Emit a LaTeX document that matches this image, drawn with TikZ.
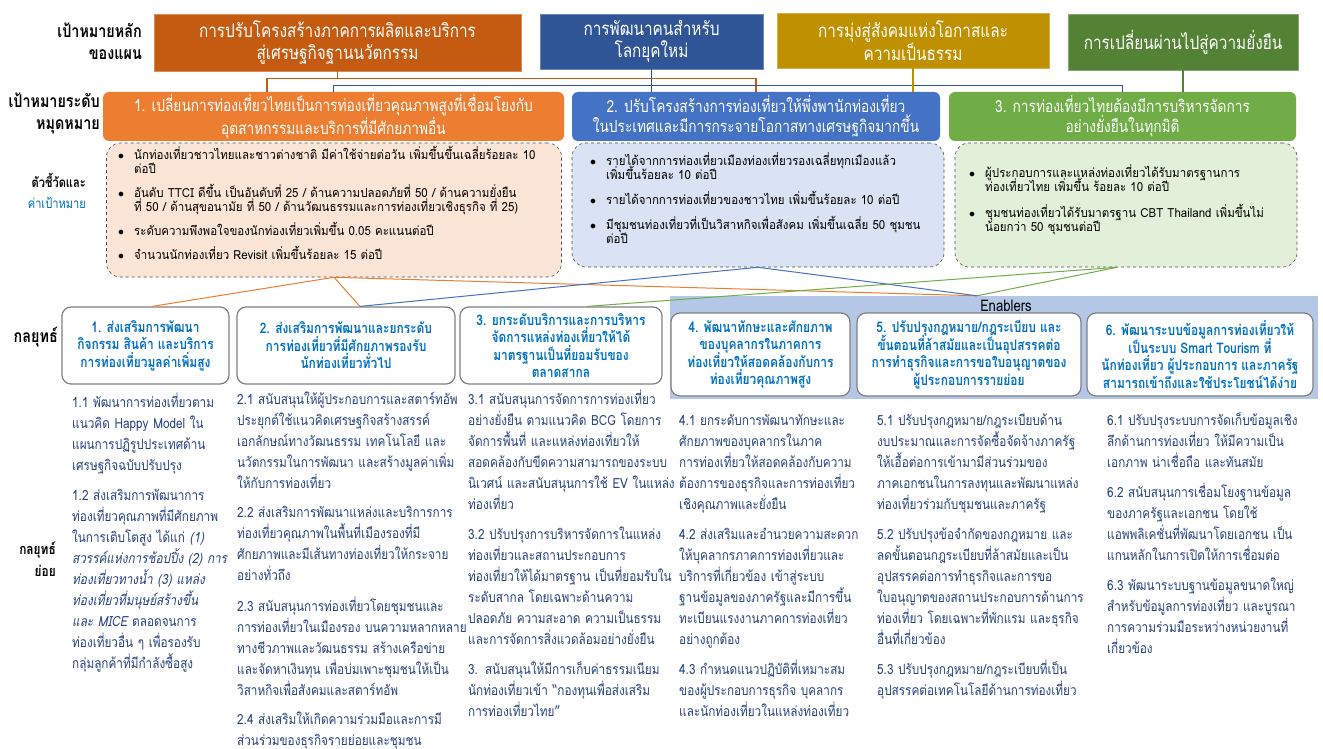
\documentclass[tikz,border=0pt]{standalone}
\usepackage{fontspec}
\usetikzlibrary{positioning,calc}
\setmainfont[Script=Thai]{Loma}
\newfontfamily\headfont[Script=Thai, FakeStretch=0.82]{Loma}
\newfontfamily\bodyfont[Script=Thai, FakeStretch=0.84, ItalicFont=*, ItalicFeatures={FakeSlant=0.2}]{Loma}
\newfontfamily\kpifont[Script=Thai, FakeStretch=0.92]{Loma}

\definecolor{goalOrange}{HTML}{C55A11}
\definecolor{goalBlue}{HTML}{2F5597}
\definecolor{goalGold}{HTML}{BF9000}
\definecolor{goalGreen}{HTML}{548235}
\definecolor{mileOrange}{HTML}{ED7D31}
\definecolor{mileBlue}{HTML}{4472C4}
\definecolor{mileGreen}{HTML}{70AD47}
\definecolor{kpiOrange}{HTML}{FBE5D6}
\definecolor{kpiBlue}{HTML}{DAE3F3}
\definecolor{kpiGreen}{HTML}{E2F0D9}
\definecolor{enablerFill}{HTML}{B4C7E7}
\definecolor{stratBlue}{HTML}{0070C0}
\definecolor{subText}{HTML}{26437F}

% fixed line pitch and one bullet of an indicator list
\newcommand{\fixedlines}{\lineskiplimit=-100pt\relax}
\newcommand{\kbr}{\hfil\break}
\newcommand{\kpiItem}[1]{\noindent\hangindent=16pt\hangafter=1\makebox[16pt][l]{$\bullet$}#1\par}

\begin{document}
\begin{tikzpicture}[x=1pt, y=-1pt,
    goal/.style={rectangle, fill=#1, draw=#1!70!white, text=white, align=center, inner sep=0pt, font=\headfont\fontsize{18.7}{22}\selectfont},
    mile/.style={rectangle, rounded corners=6pt, fill=#1, text=white, align=center, inner sep=0pt, minimum height=49pt, font=\headfont\fontsize{16.7}{20}\selectfont},
    kpi/.style={rectangle, rounded corners=14pt, fill=#1, draw=black!70, dashed, line width=0.6pt, inner sep=0pt},
    kpitext/.style={anchor=base west, inner sep=0pt, text width=480pt, font=\kpifont\fontsize{12.5}{14}\selectfont, execute at begin node=\fixedlines},
    strat/.style={rectangle, rounded corners=9pt, fill=white, draw=black!50, line width=1.2pt, text=stratBlue, align=center, inner sep=0pt, font=\headfont\bfseries\fontsize{14.6}{17.5}\selectfont, execute at begin node=\fixedlines},
    subtext/.style={anchor=base west, inner sep=0pt, align=left, text width=300pt, text=subText, font=\bodyfont\fontsize{14}{21}\selectfont, execute at begin node=\fixedlines},
    rowlabel/.style={anchor=east, inner sep=0pt, align=right, font=\headfont\bfseries\fontsize{17.5}{22}\selectfont},
    link/.style={line width=1pt}
]
    \path[use as bounding box, fill=white] (0,0) rectangle (1323,749);

    % Row labels
    \node[rowlabel] (lbGoal) at (142,41) {เป้าหมายหลัก\\ของแผน};
    \node[rowlabel] (lbMile) at (100,113) {เป้าหมายระดับ\\หมุดหมาย};
    \node[rowlabel, font=\headfont\bfseries\fontsize{13.5}{21}\selectfont] (lbKpi) at (86,191) {ตัวชี้วัดและ\\{\mdseries\color{stratBlue}ค่าเป้าหมาย}};
    \node[rowlabel] (lbStrat) at (58,337) {กลยุทธ์};
    \node[rowlabel, font=\headfont\bfseries\fontsize{14.5}{22}\selectfont] (lbSub) at (56,559) {กลยุทธ์\\ย่อย};

    % Main goals of the plan
    \node[goal=goalOrange, minimum width=367pt, minimum height=57pt] (G1) at (337.5,42.5) {การปรับโครงสร้างภาคการผลิตและบริการ\\สู่เศรษฐกิจฐานนวัตกรรม};
    \node[goal=goalBlue, minimum width=223pt, minimum height=55pt] (G2) at (651.5,41.5) {การพัฒนาคนสำหรับ\\โลกยุคใหม่};
    \node[goal=goalGold, minimum width=272pt, minimum height=55pt] (G3) at (913,40.5) {การมุ่งสู่สังคมแห่งโอกาสและ\\ความเป็นธรรม};
    \node[goal=goalGreen, minimum width=230pt, minimum height=56pt] (G4) at (1183,42) {การเปลี่ยนผ่านไปสู่ความยั่งยืน};

    % Milestone goals
    \node[mile=mileOrange, minimum width=461pt] (L1) at (333.5,116.5) {1. เปลี่ยนการท่องเที่ยวไทยเป็นการท่องเที่ยวคุณภาพสูงที่เชื่อมโยงกับ\\อุตสาหกรรมและบริการที่มีศักยภาพอื่น};
    \node[mile=mileBlue, minimum width=368pt] (L2) at (756,116.5) {2. ปรับโครงสร้างการท่องเที่ยวให้พึ่งพานักท่องเที่ยว\\ในประเทศและมีการกระจายโอกาสทางเศรษฐกิจมากขึ้น};
    \node[mile=mileGreen, minimum width=347pt] (L3) at (1122.5,116.5) {3. การท่องเที่ยวไทยต้องมีการบริหารจัดการ\\อย่างยั่งยืนในทุกมิติ};

    % Goals to milestones
    \draw[link, line width=1.3pt, goalOrange] (G1.south) -- ++(0,8);
    \draw[link, line width=1.3pt, goalOrange] ([xshift=-66.5pt]L1.north) |- ($(L2.north)+(0,-13)$) -- (L2.north);
    \draw[link, line width=1.3pt, goalBlue] (L1.north) |- ($(L3.north)+(0,-6.5)$) -- (L3.north);
    \draw[link, line width=1.3pt, goalBlue] (G2.south) -- (G2.south |- L2.north);
    \draw[link, line width=1.3pt, goalGold] (G3.south) -- (G3.south |- L2.north);
    \draw[link, line width=1.3pt, goalGreen] (G4.south) -- (G4.south |- L3.north);

    % Indicators and targets
    \node[kpi=kpiOrange, minimum width=455pt, minimum height=134pt] (K1) at (334,210) {};
    \node[kpi=kpiBlue, minimum width=372pt, minimum height=124pt] (K2) at (758,205) {};
    \node[kpi=kpiGreen, minimum width=342pt, minimum height=124pt] (K3) at (1126,205) {};
    \node[kpitext] (K1list) at (118,159.5) {%
        \kpiItem{นักท่องเที่ยวชาวไทยและชาวต่างชาติ มีค่าใช้จ่ายต่อวัน เพิ่มขึ้นขึ้นเฉลี่ยร้อยละ 10\kbr ต่อปี}\vspace{10pt}
        \kpiItem{อันดับ TTCI ดีขึ้น เป็นอันดับที่ 25 / ด้านความปลอดภัยที่ 50 / ด้านความยั่งยืน\kbr ที่ 50 / ด้านสุขอนามัย ที่ 50 / ด้านวัฒนธรรมและการท่องเที่ยวเชิงธุรกิจ ที่ 25)}\vspace{10pt}
        \kpiItem{ระดับความพึงพอใจของนักท่องเที่ยวเพิ่มขึ้น 0.05 คะแนนต่อปี}\vspace{10pt}
        \kpiItem{จำนวนนักท่องเที่ยว Revisit เพิ่มขึ้นร้อยละ 15 ต่อปี}};
    \node[kpitext] (K2list) at (590,165.5) {%
        \kpiItem{รายได้จากการท่องเที่ยวเมืองท่องเที่ยวรองเฉลี่ยทุกเมืองแล้ว\kbr เพิ่มขึ้นร้อยละ 10 ต่อปี}\vspace{11pt}
        \kpiItem{รายได้จากการท่องเที่ยวของชาวไทย เพิ่มขึ้นร้อยละ 10 ต่อปี}\vspace{11pt}
        \kpiItem{มีชุมชนท่องเที่ยวที่เป็นวิสาหกิจเพื่อสังคม เพิ่มขึ้นเฉลี่ย 50 ชุมชน\kbr ต่อปี}};
    \node[kpitext] (K3list) at (969,177.5) {%
        \kpiItem{ผู้ประกอบการและแหล่งท่องเที่ยวได้รับมาตรฐานการ\kbr ท่องเที่ยวไทย เพิ่มขึ้น ร้อยละ 10 ต่อปี}\vspace{12pt}
        \kpiItem{ชุมชนท่องเที่ยวได้รับมาตรฐาน CBT Thailand เพิ่มขึ้นไม่\kbr น้อยกว่า 50 ชุมชนต่อปี}};

    % Enablers band
    \node[rectangle, fill=enablerFill, inner sep=0pt, minimum width=648pt, minimum height=103pt] (En) at (994,347.5) {};
    \node[inner sep=0pt, font=\headfont\fontsize{16}{18}\selectfont] (enLabel) at (1006,306) {Enablers};
    \coordinate (enHub) at ($(En.north)+(-17,0)$);

    % Strategies
    \node[strat, minimum width=167pt, minimum height=77pt] (S1) at (145.5,345.5) {1. ส่งเสริมการพัฒนา\\กิจกรรม สินค้า และบริการ\\การท่องเที่ยวมูลค่าเพิ่มสูง};
    \node[strat, minimum width=218pt, minimum height=77pt] (S2) at (346,345.5) {2. ส่งเสริมการพัฒนาและยกระดับ\\การท่องเที่ยวที่มีศักยภาพรองรับ\\นักท่องเที่ยวทั่วไป};
    \node[strat, minimum width=202pt, minimum height=77pt] (S3) at (561,345.5) {3. ยกระดับบริการและการบริหาร\\จัดการแหล่งท่องเที่ยวให้ได้\\มาตรฐานเป็นที่ยอมรับของ\\ตลาดสากล};
    \node[strat, minimum width=179pt, minimum height=83pt] (S4) at (760.5,354.5) {4. พัฒนาทักษะและศักยภาพ\\ของบุคลากรในภาคการ\\ท่องเที่ยวให้สอดคล้องกับการ\\ท่องเที่ยวคุณภาพสูง};
    \node[strat, minimum width=224pt, minimum height=83pt] (S5) at (969,354.5) {5. ปรับปรุงกฎหมาย/กฎระเบียบ และ\\ขั้นตอนที่ล้าสมัยและเป็นอุปสรรคต่อ\\การทำธุรกิจและการขอใบอนุญาตของ\\ผู้ประกอบการรายย่อย};
    \node[strat, minimum width=226pt, minimum height=83pt] (S6) at (1200,354.5) {6. พัฒนาระบบข้อมูลการท่องเที่ยวให้\\เป็นระบบ Smart Tourism ที่\\นักท่องเที่ยว ผู้ประกอบการ และภาครัฐ\\สามารถเข้าถึงและใช้ประโยชน์ได้ง่าย};

    % Indicators to strategies
    \draw[link, mileOrange] (K1.south) -- ([xshift=6.5pt]S1.north);
    \draw[link, mileOrange] (K1.south) -- ([xshift=14pt]S2.north);
    \draw[link, mileOrange] (K1.south) -- (enHub);
    \draw[link, mileBlue] (K2.south) -- ([xshift=14pt]S2.north);
    \draw[link, mileBlue] (K2.south) -- (enHub);
    \draw[link, mileGreen] ([xshift=-9pt]K3.south) -- ([xshift=26pt]S3.north);
    \draw[link, mileGreen] ([xshift=-9pt]K3.south) -- (enHub);

    % Sub-strategies
    \node[subtext] (C1) at (72,407) {1.1 พัฒนาการท่องเที่ยวตาม\\
        แนวคิด Happy Model ใน\\
        แผนการปฏิรูปประเทศด้าน\\
        เศรษฐกิจฉบับปรับปรุง\\[9pt]
        1.2 ส่งเสริมการพัฒนาการ\\
        ท่องเที่ยวคุณภาพที่มีศักยภาพ\\
        ในการเติบโตสูง ได้แก่ \textit{(1)}\\
        \textit{สวรรค์แห่งการช้อปปิ้ง (2) การ}\\
        \textit{ท่องเที่ยวทางน้ำ (3) แหล่ง}\\
        \textit{ท่องเที่ยวที่มนุษย์สร้างขึ้น}\\
        \textit{และ MICE} ตลอดจนการ\\
        ท่องเที่ยวอื่น ๆ เพื่อรองรับ\\
        กลุ่มลูกค้าที่มีกำลังซื้อสูง};
    \node[subtext] (C2) at (237,404) {2.1 สนับสนุนให้ผู้ประกอบการและสตาร์ทอัพ\\
        ประยุกต์ใช้แนวคิดเศรษฐกิจสร้างสรรค์\\
        เอกลักษณ์ทางวัฒนธรรม เทคโนโลยี และ\\
        นวัตกรรมในการพัฒนา และสร้างมูลค่าเพิ่ม\\
        ให้กับการท่องเที่ยว\\[8pt]
        2.2 ส่งเสริมการพัฒนาแหล่งและบริการการ\\
        ท่องเที่ยวคุณภาพในพื้นที่เมืองรองที่มี\\
        ศักยภาพและมีเส้นทางท่องเที่ยวให้กระจาย\\
        อย่างทั่วถึง\\[10pt]
        2.3 สนับสนุนการท่องเที่ยวโดยชุมชนและ\\
        การท่องเที่ยวในเมืองรอง บนความหลากหลาย\\
        ทางชีวภาพและวัฒนธรรม สร้างเครือข่าย\\
        และจัดหาเงินทุน เพื่อบ่มเพาะชุมชนให้เป็น\\
        วิสาหกิจเพื่อสังคมและสตาร์ทอัพ\\[8pt]
        2.4 ส่งเสริมให้เกิดความร่วมมือและการมี\\
        ส่วนร่วมของธุรกิจรายย่อยและชุมชน};
    \node[subtext] (C3) at (468,404) {3.1 สนับสนุนการจัดการการท่องเที่ยว\\
        อย่างยั่งยืน ตามแนวคิด BCG โดยการ\\
        จัดการพื้นที่ และแหล่งท่องเที่ยวให้\\
        สอดคล้องกับขีดความสามารถของระบบ\\
        นิเวศน์ และสนับสนุนการใช้ EV ในแหล่ง\\
        ท่องเที่ยว\\[9pt]
        3.2 ปรับปรุงการบริหารจัดการในแหล่ง\\
        ท่องเที่ยวและสถานประกอบการ\\
        ท่องเที่ยวให้ได้มาตรฐาน เป็นที่ยอมรับใน\\
        ระดับสากล โดยเฉพาะด้านความ\\
        ปลอดภัย ความสะอาด ความเป็นธรรม\\
        และการจัดการสิ่งแวดล้อมอย่างยั่งยืน\\[9pt]
        3. สนับสนุนให้มีการเก็บค่าธรรมเนียม\\
        นักท่องเที่ยวเข้า “กองทุนเพื่อส่งเสริม\\
        การท่องเที่ยวไทย”};
    \node[subtext] (C4) at (679,425) {4.1 ยกระดับการพัฒนาทักษะและ\\
        ศักยภาพของบุคลากรในภาค\\
        การท่องเที่ยวให้สอดคล้องกับความ\\
        ต้องการของธุรกิจและการท่องเที่ยว\\
        เชิงคุณภาพและยั่งยืน\\[9pt]
        4.2 ส่งเสริมและอำนวยความสะดวก\\
        ให้บุคลากรภาคการท่องเที่ยวและ\\
        บริการที่เกี่ยวข้อง เข้าสู่ระบบ\\
        ฐานข้อมูลของภาครัฐและมีการขึ้น\\
        ทะเบียนแรงงานภาคการท่องเที่ยว\\
        อย่างถูกต้อง\\[9pt]
        4.3 กำหนดแนวปฏิบัติที่เหมาะสม\\
        ของผู้ประกอบการธุรกิจ บุคลากร\\
        และนักท่องเที่ยวในแหล่งท่องเที่ยว};
    \node[subtext] (C5) at (877,425) {5.1 ปรับปรุงกฎหมาย/กฎระเบียบด้าน\\
        งบประมาณและการจัดซื้อจัดจ้างภาครัฐ\\
        ให้เอื้อต่อการเข้ามามีส่วนร่วมของ\\
        ภาคเอกชนในการลงทุนและพัฒนาแหล่ง\\
        ท่องเที่ยวร่วมกับชุมชนและภาครัฐ\\[9pt]
        5.2 ปรับปรุงข้อจำกัดของกฎหมาย และ\\
        ลดขั้นตอนกฎระเบียบที่ล้าสมัยและเป็น\\
        อุปสรรคต่อการทำธุรกิจและการขอ\\
        ใบอนุญาตของสถานประกอบการด้านการ\\
        ท่องเที่ยว โดยเฉพาะที่พักแรม และธุรกิจ\\
        อื่นที่เกี่ยวข้อง\\[9pt]
        5.3 ปรับปรุงกฎหมาย/กฎระเบียบที่เป็น\\
        อุปสรรคต่อเทคโนโลยีด้านการท่องเที่ยว};
    \node[subtext] (C6) at (1107,425) {6.1 ปรับปรุงระบบการจัดเก็บข้อมูลเชิง\\
        ลึกด้านการท่องเที่ยว ให้มีความเป็น\\
        เอกภาพ น่าเชื่อถือ และทันสมัย\\[9pt]
        6.2 สนับสนุนการเชื่อมโยงฐานข้อมูล\\
        ของภาครัฐและเอกชน โดยใช้\\
        แอพพลิเคชั่นที่พัฒนาโดยเอกชน เป็น\\
        แกนหลักในการเปิดให้การเชื่อมต่อ\\[9pt]
        6.3 พัฒนาระบบฐานข้อมูลขนาดใหญ่\\
        สำหรับข้อมูลการท่องเที่ยว และบูรณา\\
        การความร่วมมือระหว่างหน่วยงานที่\\
        เกี่ยวข้อง};
\end{tikzpicture}
\end{document}
